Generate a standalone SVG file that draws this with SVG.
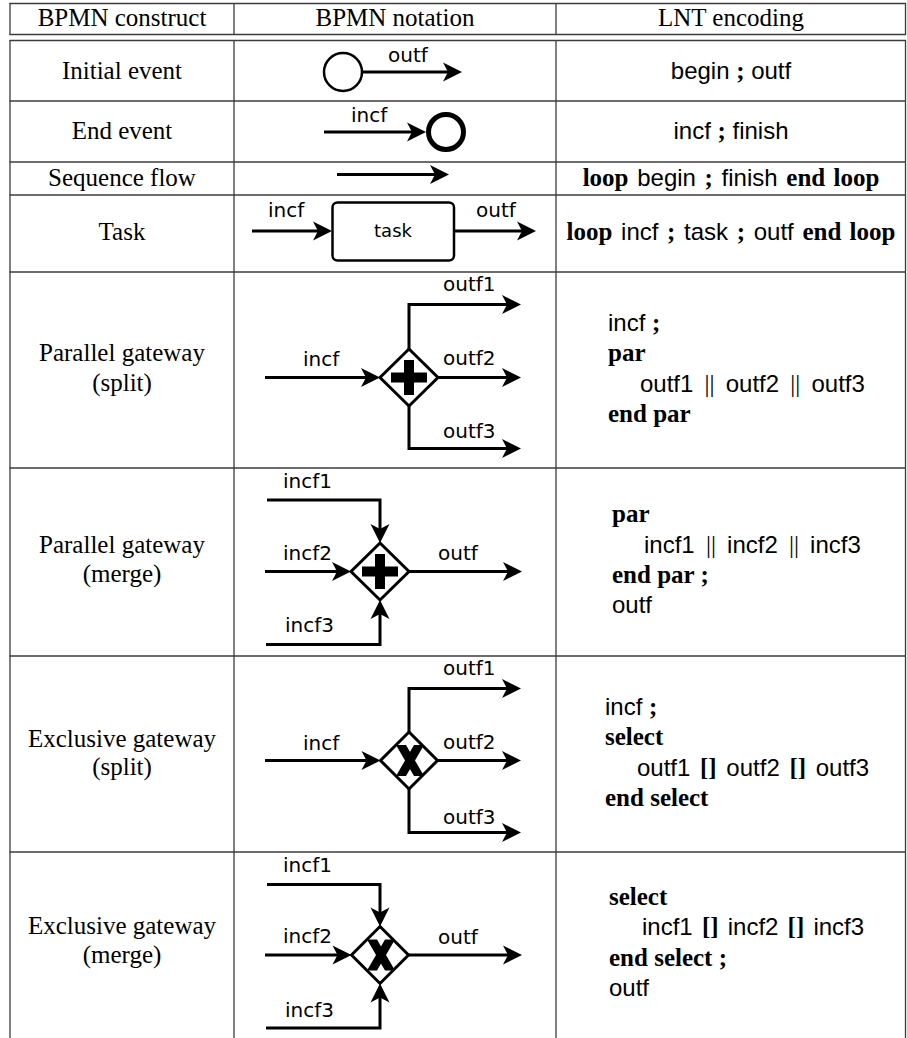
<svg xmlns="http://www.w3.org/2000/svg" width="907" height="1038" viewBox="0 0 907 1038">
<style>
.tbl line{stroke:#3c3c3c;stroke-width:1.3}
.t{font-family:"Liberation Serif",serif;font-size:25px;fill:#000}
.c{text-anchor:middle}
.s{font-family:"Liberation Sans",sans-serif;font-size:24px;fill:#000}
.k{font-family:"Liberation Serif",serif;font-weight:bold;font-size:25px}
.r{font-family:"Liberation Serif",serif;font-weight:normal;font-size:25px}
.lbl{font-family:"DejaVu Sans",sans-serif;font-size:20px;fill:#000}
.flow{fill:none;stroke:#000;stroke-width:3;marker-end:url(#arr)}
.gw{fill:#fff;stroke:#000;stroke-width:3;stroke-linejoin:miter}
</style>
<defs>
<marker id="arr" markerUnits="userSpaceOnUse" orient="auto" refX="0" refY="0" markerWidth="40" markerHeight="40" overflow="visible">
<path d="M8,0 L-11,-9.5 L-6,0 L-11,9.5 Z" fill="#000"/>
</marker>
<path id="plus" d="M-18,-5 H-5 V-17.5 H5 V-5 H18 V5 H5 V17.5 H-5 V5 H-18 Z" fill="#000"/>
<path id="xmark" d="M-14,-15.5 H-4 L14,15.5 H4 Z M4,-15.5 H14 L-4,15.5 H-14 Z" fill="#000"/>
</defs>
<rect width="907" height="1038" fill="#fff"/>
<g id="table" class="tbl">
<line x1="9.5" y1="3.5" x2="906" y2="3.5"/>
<line x1="9.5" y1="34.5" x2="906" y2="34.5"/>
<line x1="9.5" y1="40.5" x2="906" y2="40.5"/>
<line x1="9.5" y1="101" x2="906" y2="101"/>
<line x1="9.5" y1="162" x2="906" y2="162"/>
<line x1="9.5" y1="195" x2="906" y2="195"/>
<line x1="9.5" y1="272" x2="906" y2="272"/>
<line x1="9.5" y1="468" x2="906" y2="468"/>
<line x1="9.5" y1="656" x2="906" y2="656"/>
<line x1="9.5" y1="852" x2="906" y2="852"/>
<line x1="10" y1="3" x2="10" y2="35"/>
<line x1="234" y1="3" x2="234" y2="35"/>
<line x1="556" y1="3" x2="556" y2="35"/>
<line x1="905.5" y1="3" x2="905.5" y2="35"/>
<line x1="10" y1="40" x2="10" y2="1038"/>
<line x1="234" y1="40" x2="234" y2="1038"/>
<line x1="556" y1="40" x2="556" y2="1038"/>
<line x1="905.5" y1="40" x2="905.5" y2="1038"/>
</g>
<g id="header">
<text class="t c" x="122" y="26">BPMN construct</text>
<text class="t c" x="395" y="26">BPMN notation</text>
<text class="t c" x="731" y="26">LNT encoding</text>
</g>
<g id="construct-names">
<text class="t c" x="122" y="79">Initial event</text>
<text class="t c" x="122" y="139">End event</text>
<text class="t c" x="122" y="186">Sequence flow</text>
<text class="t c" x="122" y="240">Task</text>
<text class="t c" x="122" y="361">Parallel gateway</text>
<text class="t c" x="122" y="391">(split)</text>
<text class="t c" x="122" y="553">Parallel gateway</text>
<text class="t c" x="122" y="582">(merge)</text>
<text class="t c" x="122" y="747">Exclusive gateway</text>
<text class="t c" x="122" y="775">(split)</text>
<text class="t c" x="122" y="934">Exclusive gateway</text>
<text class="t c" x="122" y="963">(merge)</text>
</g>
<g id="start-event"><circle cx="343" cy="72" r="19" fill="#fff" stroke="#000" stroke-width="2.5"/></g>
<g id="end-event"><circle cx="446" cy="132" r="17.5" fill="#fff" stroke="#000" stroke-width="5"/></g>
<g id="task"><rect x="332.5" y="202.5" width="121.5" height="58" rx="5" fill="#fff" stroke="#000" stroke-width="2.5"/><text class="lbl c" x="393" y="237" style="font-size:18px">task</text></g>
<g id="par-split"><polygon class="gw" points="409,349 438,377.5 409,406 380,377.5"/><use href="#plus" x="409" y="377.5"/></g>
<g id="par-merge"><polygon class="gw" points="380,543 409,571.5 380,600 351,571.5"/><use href="#plus" x="380" y="571.5"/></g>
<g id="xor-split"><polygon class="gw" points="409,732 437.5,760.5 409,789 380.5,760.5"/><use href="#xmark" x="410" y="760.5"/></g>
<g id="xor-merge"><polygon class="gw" points="380,926.5 408.5,955 380,983.5 351.5,955"/><use href="#xmark" x="381" y="955"/></g>
<g id="connectors">
<path class="flow" d="M362,72 H454"/>
<path class="flow" d="M324,132 H418"/>
<path class="flow" d="M337,174.5 H441"/>
<path class="flow" d="M252,231 H324"/>
<path class="flow" d="M454,231 H528"/>
<path class="flow" d="M265,377.5 H372"/>
<path class="flow" d="M409,349 V304.5 H513"/>
<path class="flow" d="M438,377.5 H513"/>
<path class="flow" d="M409,406 V448.5 H513"/>
<path class="flow" d="M267,500 H380 V535"/>
<path class="flow" d="M265,571.5 H343"/>
<path class="flow" d="M266,644.5 H380 V608"/>
<path class="flow" d="M409,571.5 H514"/>
<path class="flow" d="M265,760.5 H372.5"/>
<path class="flow" d="M409,732 V688.5 H513"/>
<path class="flow" d="M437.5,760.5 H513"/>
<path class="flow" d="M409,789 V832.5 H513"/>
<path class="flow" d="M267,884.5 H380 V918.5"/>
<path class="flow" d="M265,955 H343.5"/>
<path class="flow" d="M266,1028 H380 V991.5"/>
<path class="flow" d="M408.5,955 H514"/>
</g>
<g id="flow-labels">
<text class="lbl" x="388" y="62">outf</text>
<text class="lbl" x="351" y="122">incf</text>
<text class="lbl" x="268" y="217">incf</text>
<text class="lbl" x="476" y="217">outf</text>
<text class="lbl" x="303" y="366">incf</text>
<text class="lbl" x="443" y="291">outf1</text>
<text class="lbl" x="443" y="364.5">outf2</text>
<text class="lbl" x="443" y="438">outf3</text>
<text class="lbl" x="283" y="488">incf1</text>
<text class="lbl" x="283" y="560">incf2</text>
<text class="lbl" x="285" y="632">incf3</text>
<text class="lbl" x="438" y="559.5">outf</text>
<text class="lbl" x="303" y="749.5">incf</text>
<text class="lbl" x="443" y="675">outf1</text>
<text class="lbl" x="443" y="748.5">outf2</text>
<text class="lbl" x="443" y="823.5">outf3</text>
<text class="lbl" x="283" y="872">incf1</text>
<text class="lbl" x="283" y="943">incf2</text>
<text class="lbl" x="285" y="1017">incf3</text>
<text class="lbl" x="438" y="943.5">outf</text>
</g>
<g id="lnt">
<text class="s c" x="731" y="79">begin <tspan class="k">;</tspan> outf</text>
<text class="s c" x="731" y="139">incf <tspan class="k">;</tspan> finish</text>
<text class="s c" x="731" y="186" word-spacing="2"><tspan class="k">loop</tspan> begin <tspan class="k">;</tspan> finish <tspan class="k">end loop</tspan></text>
<text class="s c" x="731" y="240" word-spacing="2"><tspan class="k">loop</tspan> incf <tspan class="k">;</tspan> task <tspan class="k">;</tspan> outf <tspan class="k">end loop</tspan></text>
<text class="s" x="608" y="331">incf <tspan class="k">;</tspan></text>
<text class="k" x="608" y="361">par</text>
<text class="s" x="640" y="392" word-spacing="4.5">outf1 <tspan class="r">||</tspan> outf2 <tspan class="r">||</tspan> outf3</text>
<text class="k" x="608" y="422">end par</text>
<text class="k" x="612" y="522">par</text>
<text class="s" x="644" y="553" word-spacing="4.5">incf1 <tspan class="r">||</tspan> incf2 <tspan class="r">||</tspan> incf3</text>
<text class="k" x="612" y="583">end par ;</text>
<text class="s" x="612" y="613">outf</text>
<text class="s" x="605" y="715">incf <tspan class="k">;</tspan></text>
<text class="k" x="605" y="745">select</text>
<text class="s" x="637" y="776" word-spacing="3">outf1 <tspan class="k">[]</tspan> outf2 <tspan class="k">[]</tspan> outf3</text>
<text class="k" x="605" y="806">end select</text>
<text class="k" x="609" y="905">select</text>
<text class="s" x="642" y="935" word-spacing="2.5">incf1 <tspan class="k">[]</tspan> incf2 <tspan class="k">[]</tspan> incf3</text>
<text class="k" x="609" y="966">end select ;</text>
<text class="s" x="609" y="996">outf</text>
</g>
</svg>
